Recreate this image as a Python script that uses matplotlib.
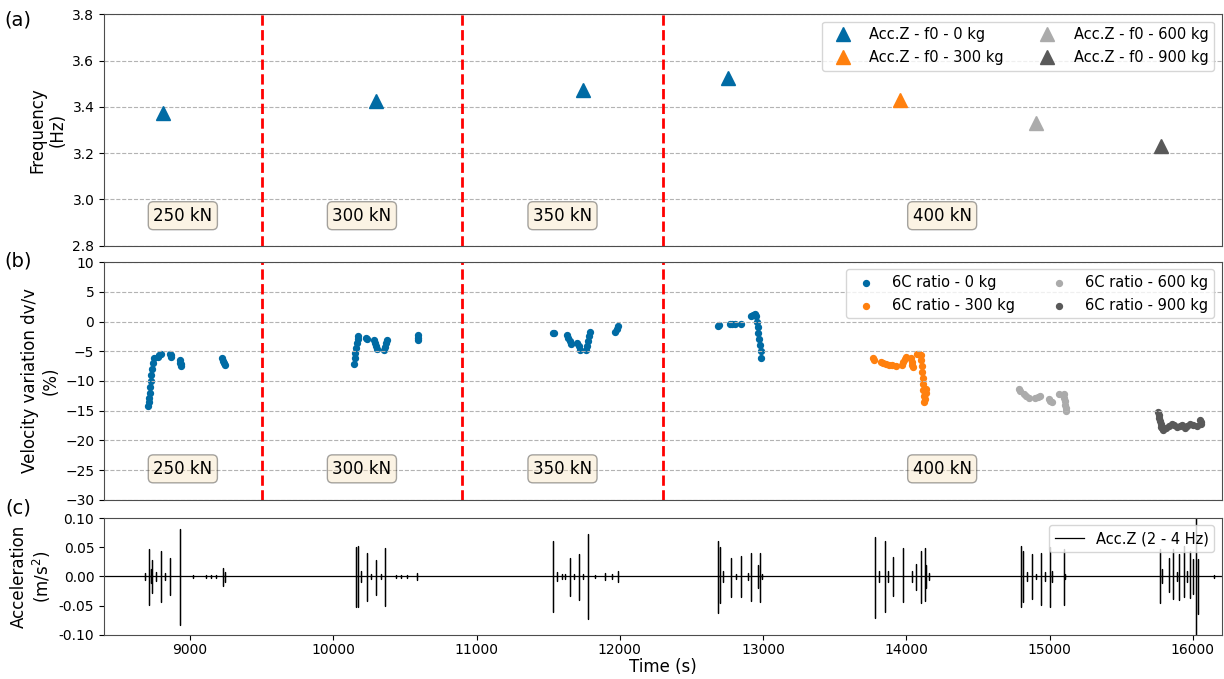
import numpy as np
import matplotlib
matplotlib.use("Agg")
from matplotlib import pyplot as plt

# couleurs tableau-colorblind10
colors = ['#006BA4', '#FF800E', '#ABABAB', '#595959']
masses = ['0 kg', '300 kg', '600 kg', '900 kg']

# (a) frequence fondamentale
f0_t = [[8814, 10297, 11744, 12753], [13957], [14903], [15780]]
f0_val = [[3.375, 3.425, 3.475, 3.525], [3.429], [3.331], [3.23]]

# (b) dv/v - 6C ratio
dv_t0 = [8708, 8712, 8716, 8720, 8724, 8727, 8731, 8736, 8742, 8750, 8777, 8786, 8800, 8858,
         8864, 8870, 8928, 8933, 8937, 8940, 9223, 9230, 9238, 9246,
         10145, 10150, 10155, 10160, 10166, 10172, 10176, 10227, 10234, 10285, 10292, 10300, 10308,
         10354, 10359, 10365, 10373, 10589, 10590, 10591,
         11533, 11538, 11631, 11640, 11650, 11658, 11704, 11712, 11723, 11765, 11772, 11780, 11786, 11793,
         11967, 11978, 11990,
         12686, 12694, 12767, 12780, 12802, 12848, 12918, 12930, 12942, 12953, 12957, 12962, 12967,
         12972, 12977, 12982, 12988]
dv_v0 = [-14.3, -13.6, -12.8, -12.0, -11.0, -10.0, -9.0, -8.0, -7.0, -6.2, -5.9, -5.7, -5.5, -5.4,
         -5.7, -6.0, -6.5, -6.9, -7.2, -7.5, -6.2, -6.6, -7.0, -7.4,
         -7.1, -6.2, -5.3, -4.4, -3.6, -2.9, -2.5, -2.8, -3.0, -3.1, -3.6, -4.1, -4.6,
         -4.8, -4.3, -3.7, -3.1, -2.2, -2.7, -3.1,
         -1.9, -2.0, -2.2, -2.7, -3.3, -3.8, -3.7, -4.2, -4.8, -4.8, -4.2, -3.3, -2.5, -1.8,
         -1.7, -1.2, -0.7,
         -0.8, -0.6, -0.35, -0.4, -0.5, -0.5, 1.0, 1.1, 1.2, 0.9, 0.0, -1.0, -2.0,
         -3.0, -4.0, -5.0, -6.2]
dv_t1 = [13769, 13775, 13823, 13840, 13860, 13880, 13900, 13927, 13973, 13980, 13988, 13997,
         14031, 14036, 14042, 14047, 14077, 14085, 14093, 14101, 14104, 14107, 14110, 14113,
         14116, 14119, 14122, 14124, 14130, 14135, 14140]
dv_v1 = [-6.2, -6.5, -6.8, -7.0, -7.1, -7.3, -7.4, -7.5, -7.4, -6.8, -6.3, -5.9,
         -6.2, -6.8, -7.3, -7.6, -5.5, -5.5, -5.6, -5.6, -6.5, -7.5, -8.5, -9.5,
         -10.5, -11.5, -12.5, -13.6, -13.0, -12.0, -11.3]
dv_t2 = [14785, 14790, 14820, 14838, 14855, 14901, 14918, 14936, 14994, 15005, 15017,
         15064, 15099, 15102, 15105, 15108, 15111, 15114]
dv_v2 = [-11.3, -11.7, -12.2, -12.5, -12.8, -12.8, -12.7, -12.6, -13.1, -13.4, -13.6,
         -12.2, -12.2, -12.8, -13.4, -14.0, -14.5, -15.0]
dv_t3 = [15759, 15762, 15766, 15770, 15774, 15778, 15782, 15794, 15810, 15830, 15852, 15870,
         15890, 15910, 15921, 15945, 15960, 15980, 16000, 16026, 16049, 16055, 16060]
dv_v3 = [-15.3, -15.8, -16.3, -16.8, -17.3, -17.7, -17.9, -18.2, -18.0, -17.6, -17.2, -17.5,
         -17.8, -17.6, -17.4, -17.9, -17.6, -17.3, -17.5, -17.6, -16.5, -16.9, -17.3]
dv_t = [dv_t0, dv_t1, dv_t2, dv_t3]
dv_v = [dv_v0, dv_v1, dv_v2, dv_v3]

# (c) acceleration filtree 2-4 Hz : pics (temps, max, min)
spike_t = [8689, 8712, 8726, 8738, 8765, 8800, 8823, 8861, 8933, 9021, 9113, 9148, 9183, 9232, 9241,
           10157, 10173, 10192, 10234, 10262, 10296, 10331, 10364, 10441, 10475, 10512, 10587,
           11537, 11561, 11596, 11619, 11653, 11683, 11714, 11746, 11781, 11827, 11897, 11944, 11990,
           12686, 12697, 12720, 12779, 12813, 12848, 12894, 12918, 12964, 12976, 12992,
           13781, 13811, 13850, 13873, 13908, 13980, 14038, 14070, 14105, 14129, 14140, 14159,
           14797, 14813, 14843, 14878, 14906, 14940, 14971, 15006, 15017, 15098, 15110,
           15771, 15782, 15834, 15864, 15887, 15905, 15940, 15961, 15980, 16003, 16021, 16037, 16149]
spike_max = [0.006, 0.047, 0.012, 0.028, 0.008, 0.043, 0.006, 0.031, 0.081, 0.003, 0.002, 0.002, 0.003, 0.015, 0.008,
             0.050, 0.052, 0.010, 0.041, 0.005, 0.029, 0.005, 0.048, 0.003, 0.003, 0.003, 0.006,
             0.060, 0.008, 0.004, 0.004, 0.032, 0.005, 0.039, 0.005, 0.072, 0.003, 0.006, 0.004, 0.010,
             0.061, 0.050, 0.010, 0.032, 0.005, 0.035, 0.006, 0.041, 0.020, 0.041, 0.005,
             0.068, 0.010, 0.060, 0.010, 0.033, 0.049, 0.009, 0.022, 0.043, 0.049, 0.020, 0.006,
             0.052, 0.044, 0.008, 0.038, 0.005, 0.041, 0.008, 0.050, 0.010, 0.047, 0.005,
             0.047, 0.012, 0.031, 0.047, 0.008, 0.038, 0.052, 0.010, 0.044, 0.030, 0.150, 0.030, 0.003]
spike_min = [-0.006, -0.048, -0.012, -0.029, -0.008, -0.043, -0.006, -0.031, -0.083, -0.003, -0.002, -0.002, -0.003, -0.017, -0.010,
             -0.052, -0.053, -0.010, -0.042, -0.005, -0.031, -0.005, -0.050, -0.003, -0.003, -0.003, -0.006,
             -0.060, -0.008, -0.004, -0.004, -0.033, -0.005, -0.040, -0.005, -0.073, -0.003, -0.006, -0.004, -0.010,
             -0.062, -0.046, -0.010, -0.035, -0.005, -0.035, -0.006, -0.042, -0.020, -0.043, -0.005,
             -0.071, -0.010, -0.061, -0.010, -0.033, -0.044, -0.009, -0.023, -0.046, -0.042, -0.020, -0.006,
             -0.052, -0.043, -0.008, -0.038, -0.005, -0.049, -0.008, -0.052, -0.010, -0.049, -0.005,
             -0.046, -0.012, -0.026, -0.038, -0.008, -0.040, -0.035, -0.010, -0.037, -0.030, -0.150, -0.065, -0.003]
rec_start, rec_end = 8400, 16200

# paliers de chargement
load_limits = [9500, 10900, 12300]
load_labels = ['250 kN', '300 kN', '350 kN', '400 kN']
load_pos = [8950, 10200, 11600, 14250]

fig = plt.figure(figsize=(12.24, 6.79), dpi=100)
ax1 = fig.add_axes([0.085, 0.638, 0.913, 0.341])
ax2 = fig.add_axes([0.085, 0.264, 0.913, 0.350], sharex=ax1)
ax3 = fig.add_axes([0.085, 0.065, 0.913, 0.172], sharex=ax1)

box = dict(boxstyle='round', facecolor='wheat', alpha=0.35)

# (a)
for i in range(4):
    ax1.plot(f0_t[i], f0_val[i], '^', color=colors[i], ms=10, ls='none',
             label='Acc.Z - f0 - ' + masses[i])
ax1.set_ylim(2.8, 3.8)
ax1.set_yticks([2.8, 3.0, 3.2, 3.4, 3.6, 3.8])
ax1.set_ylabel('Frequency\n(Hz)', fontsize=12)
ax1.legend(loc='upper right', ncol=2, fontsize=10.5, columnspacing=2.0)

# (b)
for i in range(4):
    ax2.scatter(dv_t[i], dv_v[i], s=18, color=colors[i], label='6C ratio - ' + masses[i])
ax2.set_ylim(-30, 10)
ax2.set_yticks(range(-30, 11, 5))
ax2.set_ylabel('Velocity variation dv/v\n(%)', fontsize=12)
ax2.legend(loc='upper right', ncol=2, fontsize=10.5, columnspacing=2.0)

for ax in [ax1, ax2]:
    ax.grid(axis='y', ls='--', color='0.7', lw=0.8)
    for xl in load_limits:
        ax.axvline(xl, color='red', ls='--', lw=2)
    for xp, lab in zip(load_pos, load_labels):
        ax.text(xp, 0.13, lab, transform=ax.get_xaxis_transform(), ha='center', va='center',
                fontsize=12, bbox=box)
    ax.tick_params(axis='x', which='both', length=0, labelbottom=False)

# (c) signal reconstruit a partir des pics
sx = [rec_start]
sy = [0.0]
for t, hi, lo in zip(spike_t, spike_max, spike_min):
    sx += [t, t, t, t]
    sy += [0.0, hi, lo, 0.0]
sx.append(rec_end)
sy.append(0.0)
ax3.plot(sx, sy, color='k', lw=0.9, label='Acc.Z (2 - 4 Hz)')
ax3.set_ylim(-0.1, 0.1)
ax3.set_yticks([-0.1, -0.05, 0, 0.05, 0.1])
ax3.set_yticklabels(['%.2f' % v for v in [-0.1, -0.05, 0, 0.05, 0.1]])
ax3.set_ylabel('Acceleration\n(m/s$^2$)', fontsize=12)
ax3.tick_params(axis='x', pad=2)
ax3.set_xlabel('Time (s)', fontsize=12, labelpad=1)
ax3.set_xlim(8400, 16200)
ax3.legend(loc='upper right', fontsize=10.5)

for ax in [ax1, ax2, ax3]:
    for sp in ax.spines.values():
        sp.set_color('0.3')

fig.text(0.015, 0.970, '(a)', fontsize=14, ha='center', va='center')
fig.text(0.015, 0.616, '(b)', fontsize=14, ha='center', va='center')
fig.text(0.015, 0.252, '(c)', fontsize=14, ha='center', va='center')

fig.savefig('out.png', dpi=100)
